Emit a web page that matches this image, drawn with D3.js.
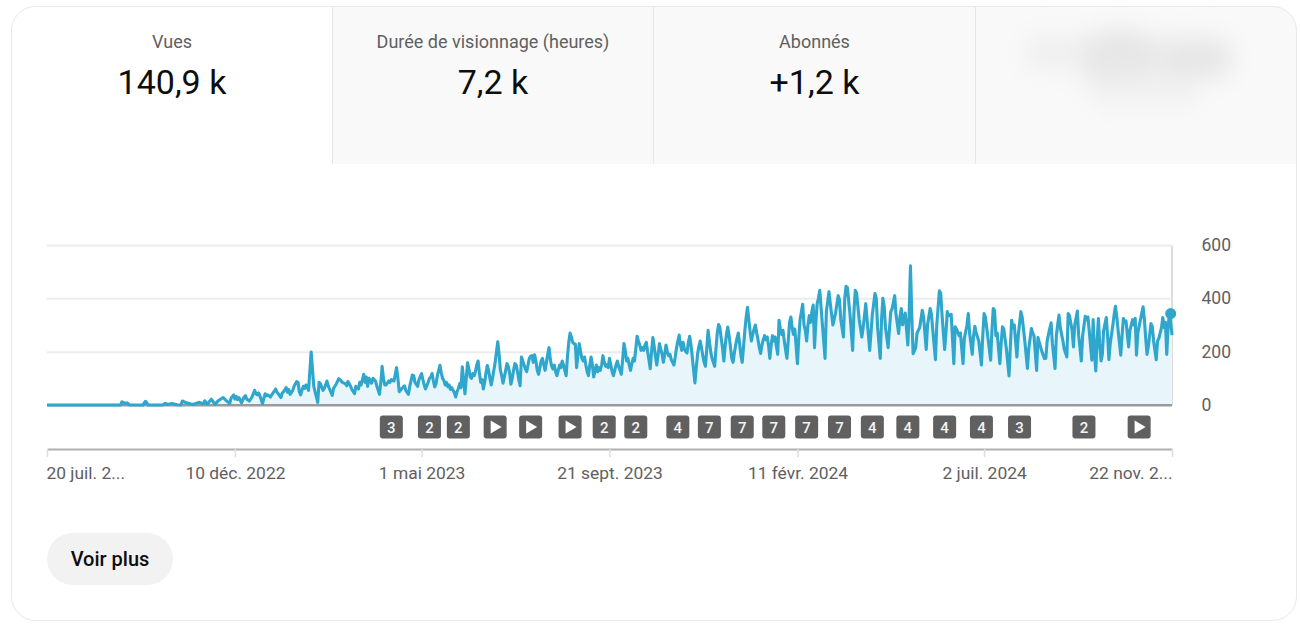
<!DOCTYPE html>
<html>
<head>
<meta charset="utf-8">
<script src="https://cdn.jsdelivr.net/npm/d3@7/dist/d3.min.js"></script>
<style>
html,body{margin:0;padding:0;background:#fff;overflow:hidden}
svg{display:block;font-family:Roboto,sans-serif}
</style>
</head>
<body>
<div id="chart"></div>
<script>
const tabLabels = ["Vues", "Durée de visionnage (heures)", "Abonnés"];
const tabValues = ["140,9 k", "7,2 k", "+1,2 k"];
const buttonLabel = "Voir plus";

const axisDays = [0, 143, 285, 428, 571, 713, 856];
const axisLabels = ["20 juil. 2...", "10 déc. 2022", "1 mai 2023", "21 sept. 2023", "11 févr. 2024", "2 juil. 2024", "22 nov. 2..."];
const yTicks = [0, 200, 400, 600];

// [days since 20 July 2022, daily views]
const viewReadings = [[0,0],[56,0],[57,12],[59,6],[61,8],[63,0],[73,0],[75,14],[77,0],[88,0],[90,6],[92,2],[95,6],[99,1],[102,0],[103,15],[106,8],[111,2],[116,10],[119,4],[120,16],[122,3],[125,22],[128,2],[130,15],[134,28],[136,18],[139,5],[140,25],[142,38],[143,22],[144,32],[145,20],[146,28],[148,8],[150,30],[151,35],[152,22],[154,15],[156,30],[158,55],[159,42],[160,38],[161,45],[162,35],[164,5],[165,25],[166,42],[167,35],[168,38],[170,30],[171,38],[174,60],[175,48],[176,42],[178,28],[179,45],[180,50],[182,65],[183,48],[184,58],[185,40],[187,55],[188,70],[190,88],[191,85],[192,50],[193,38],[194,55],[195,70],[196,62],[197,75],[199,55],[201,199],[203,70],
[206,10],[207,85],[208,80],[210,55],[211,62],[213,90],[214,72],[215,60],[217,36],[218,62],[220,78],[222,99],[223,95],[225,84],[227,80],[228,72],[229,88],[231,70],[232,58],[234,42],[235,70],[237,60],[238,85],[239,75],[241,115],[242,85],[243,105],[244,70],[245,100],[247,82],[248,100],[250,90],[251,70],[253,40],[254,85],[255,145],[256,100],[257,75],[258,75],[260,90],[261,85],[262,95],[264,90],[266,140],[267,100],[268,50],[270,62],[272,72],[273,55],[275,40],[276,70],[278,112],[279,110],[280,85],[282,70],[283,95],[285,118],[286,95],[287,75],[288,60],[290,85],[291,100],
[292,105],[293,118],[294,90],[295,68],[296,80],[297,110],[299,149],[300,120],[301,100],[302,92],[303,75],[304,85],[305,68],[306,75],[307,58],[308,65],[309,55],[310,45],[311,30],[312,50],[313,62],[314,80],[315,65],[316,143],[317,95],[318,42],[319,100],[320,158],[321,135],[322,105],[323,100],[324,118],[325,110],[326,125],[327,150],[328,165],[329,120],[330,85],[331,95],[332,60],[333,85],[334,120],[335,148],[336,130],[337,100],[338,75],[339,100],[340,130],[341,160],[342,200],[343,237],[344,190],[345,130],[346,110],[347,82],[348,105],[349,130],[350,155],[351,145],[352,120],[353,78],[354,100],[355,130],[356,155],[357,150],[358,125],[359,95],[360,72],[361,180],[362,165],[363,150],[364,135],[365,125],[366,150],[367,175],[368,183],[369,185],[370,160],[371,188],[372,165],[373,130],[374,115],[375,140],[376,165],[377,175],[378,150],[379,130],[380,160],[381,190],[382,215],[383,170],[384,145],[385,135],[386,150],[387,125],[388,110],[389,130],[390,150],[391,140],[392,165],[393,150],[394,130],[395,110],[396,180],[397,235],[398,270],[399,255],[400,235],[401,230],[402,228],[403,140],[404,190],[405,230],[406,200],[407,175],[408,165],[409,180],[410,150],[411,125],[412,110],
[413,150],[414,180],[415,150],[416,105],[417,130],[418,150],[419,125],[420,140],[421,130],[422,150],[423,185],[424,160],[425,145],[426,150],[427,140],[428,175],[429,150],[430,125],[431,110],[432,130],[433,150],[434,165],[435,145],[436,130],[437,115],[438,170],[439,230],[440,205],[441,165],[442,175],[443,150],[444,130],[445,155],[446,175],[447,165],[448,210],[449,258],[450,240],[451,225],[452,205],[453,215],[454,205],[455,225],[456,235],[457,200],[458,170],[459,136],[460,200],[461,253],[462,220],[463,180],[464,150],[465,190],[466,230],[467,210],[468,190],[469,160],[470,190],[471,225],[472,200],[473,185],[474,190],[475,170],[476,160],[477,150],[478,180],[479,215],[480,240],[481,262],[482,225],[483,205],[484,235],[485,210],[486,200],[487,195],[488,235],[489,258],[490,225],[491,180],[492,130],[493,83],[494,140],[495,190],[496,220],[497,240],[498,215],[499,185],[500,160],[501,145],[502,210],[503,280],[504,240],[505,200],[506,175],[507,160],[508,145],[509,210],[510,270],[511,302],[512,290],[513,250],[514,215],[515,165],[516,220],[517,265],[518,292],[519,260],[520,220],[521,175],[522,160],[523,195],[524,225],[525,250],[526,270],[527,230],[528,185],[529,160],[530,220],[531,280],[532,330],[533,366],[534,320],[535,275],[536,240],[537,265],[538,285],[539,300],[540,270],[541,245],[542,215],[543,193],[544,225],[545,245],[546,260],[547,245],[548,255],[549,225],[550,175],[551,225],[552,260],[553,240],[554,255],[555,220],[556,190],[557,318],[558,285],[559,265],[560,280],[561,240],[562,205],[563,175],[564,240],[565,310],[566,330],[567,290],[568,265],[569,285],[570,220],[571,155],[572,250],[573,320],[574,350],[575,378],[576,300],[577,280],[578,240],[579,300],[580,335],[581,310],[582,350],[583,375],[584,215],[585,310],[586,380],[587,400],
[588,430],[590,300],[592,175],[593,350],[595,425],[596,380],[598,300],[600,345],[602,410],[603,395],[604,320],[606,255],[607,400],[608,445],[609,440],[611,340],[613,205],[614,350],[615,430],[616,420],[618,320],[620,255],[621,290],[623,380],[624,320],[626,205],[628,340],[630,418],[631,400],[632,290],[634,175],[635,320],[636,400],[637,370],[638,290],[640,215],[642,350],[643,360],[645,410],[646,340],[648,268],[649,330],[650,362],[651,300],[653,345],[655,225],[656,340],[657,522],[658,340],[659,192],[661,215],[662,270],[664,290],[666,355],[667,330],[669,208],[670,300],[672,362],[673,340],[674,280],[676,170],[677,300],[679,428],[680,420],[681,340],[683,208],[684,270],[685,350],[686,335],[688,340],[690,155],[691,293],[692,285],[694,260],[695,270],[697,155],[698,250],[700,300],[701,343],[702,270],[704,190],[705,260],[706,295],[707,270],[709,240],[711,150],[712,260],[713,343],[714,330],[716,250],[718,168],[719,280],[720,362],[721,355],[722,260],[723,270],[725,155],[726,230],[727,293],[728,285],[730,210],[732,109],[733,220],[734,318],[735,290],[736,300],[738,180],[739,260],[741,350],[742,330],[744,240],[746,137],[747,210],[749,287],[750,270],[751,260],[753,130],[754,253],[755,235],[757,200],[759,174],[760,175],[761,240],[762,265],[764,308],[765,230],[767,137],[768,260],[769,300],[770,337],[771,290],[773,240],[774,210],[776,180],[777,343],[778,335],[780,280],[781,218],[782,300],[784,352],[785,260],[787,165],[788,260],[790,333],[791,320],[792,330],[793,280],[795,168],[796,320],[797,200],[798,128],[799,240],[800,324],[801,230],[802,165],[803,190],[804,280],[806,328],[807,260],[808,170],[809,230],[811,300],[812,340],[813,370],[814,330],[815,280],[817,187],[818,260],[819,324],[820,310],[821,315],[823,218],[824,280],[826,320],[827,300],[828,325],[829,187],[830,270],[832,320],[834,368],[835,320],[836,250],[837,190],[838,220],[840,305],[841,295],[842,240],[844,170],[845,240],[846,250],[848,290],[849,328],[850,290],[851,310],[852,190],[853,290],[854,343],[855,310],[856,262]];

const latestDay = 855;
const latestValue = 343;

const markerDays = [262,291,313,341,368,398,424,448,480,504,529,553,578,603,628,655,683,711,740,789,831];
const markerLabels = ["3","2","2","play","play","play","2","2","4","7","7","7","7","7","4","4","4","4","3","2","play"];

const W = 1300, H = 629;
const svg = d3.select("#chart").append("svg").attr("width", W).attr("height", H);
const defs = svg.append("defs");
defs.append("filter").attr("id","blur").attr("x","-30%").attr("y","-50%").attr("width","160%").attr("height","200%")
  .append("feGaussianBlur").attr("stdDeviation", 12);
defs.append("clipPath").attr("id","cardClip").append("rect")
  .attr("x",11).attr("y",7).attr("width",1286).attr("height",614).attr("rx",24);

const card = svg.append("g").attr("clip-path","url(#cardClip)");
card.append("rect").attr("x",11).attr("y",7).attr("width",1286).attr("height",614).attr("fill","#fff");

const tabEdges = [11, 332, 653, 975, 1297];
const tabIdx = [1,2,3];
card.selectAll("rect.tab").data(tabIdx).join("rect").attr("class","tab")
  .attr("x", d=>tabEdges[d]).attr("y",7).attr("width", d=>tabEdges[d+1]-tabEdges[d]).attr("height",157).attr("fill","#f9f9f9");
card.selectAll("line.sep").data(tabIdx).join("line").attr("class","sep")
  .attr("x1", d=>tabEdges[d]+.5).attr("x2", d=>tabEdges[d]+.5).attr("y1",7).attr("y2",164)
  .attr("stroke","#e6e6e6");

// blurred fourth tile
const blob = card.append("g").attr("filter","url(#blur)").attr("fill","#e6e6e6");
blob.append("rect").attr("x",1024).attr("y",36).attr("width",205).attr("height",34).attr("rx",16).attr("fill","#efefef");
blob.append("rect").attr("x",1085).attr("y",30).attr("width",70).attr("height",66).attr("rx",20);
blob.append("rect").attr("x",1160).attr("y",40).attr("width",72).attr("height",38).attr("rx",15);
blob.append("rect").attr("x",1090).attr("y",76).attr("width",110).attr("height",30).attr("rx",14).attr("fill","#f1f1f1");

svg.append("rect").attr("x",11.5).attr("y",6.5).attr("width",1285).attr("height",614).attr("rx",24)
  .attr("fill","none").attr("stroke","#e8e8e8");

const tabs = svg.selectAll("g.tabtext").data(tabLabels).join("g").attr("class","tabtext");
const tabMid = i => (tabEdges[i]+tabEdges[i+1])/2 + .5;
tabs.append("text").attr("x",(d,i)=>tabMid(i)).attr("y",48)
  .attr("text-anchor","middle").attr("font-size",18).attr("fill","#606060").text(d=>d);
tabs.append("text").attr("x",(d,i)=>tabMid(i)).attr("y",94)
  .attr("text-anchor","middle").attr("font-size",34).attr("fill","#0d0d0d").text((d,i)=>tabValues[i]);

// scales
const x = d3.scaleLinear().domain([0,856]).range([47,1172]);
const y = d3.scaleLinear().domain([0,600]).range([405,245]);

// y axis with gridlines
const yAxis = svg.append("g").attr("transform","translate(1171.5,0)")
  .call(d3.axisRight(y).tickValues(yTicks).tickSize(-1124.5).tickSizeOuter(0).tickPadding(30));
yAxis.select(".domain").attr("stroke","#dcdcdc").attr("stroke-width",2);
yAxis.selectAll(".tick line").attr("stroke",d=>d===0?"#9a9a9a":"#ececec").attr("stroke-width",2);
yAxis.selectAll(".tick text").attr("font-size",17.5).attr("fill","#606060").attr("font-family","Roboto,sans-serif");

// area + line
const pts = viewReadings.map(r=>({d:r[0], v:r[1]}));
svg.append("path").datum(pts).attr("fill","#e8f6fc")
  .attr("d", d3.area().x(p=>x(p.d)).y0(y(0)).y1(p=>y(p.v)));
svg.append("line").attr("x1",x(0)).attr("x2",x(856)).attr("y1",y(0)).attr("y2",y(0)).attr("stroke","#9a9a9a").attr("stroke-width",2);
svg.append("path").datum(pts).attr("fill","none").attr("stroke","#2fa6cc").attr("stroke-width",3.1)
  .attr("stroke-linejoin","round")
  .attr("d", d3.line().x(p=>x(p.d)).y(p=>y(p.v)));
svg.append("circle").attr("cx",x(latestDay)).attr("cy",y(latestValue)).attr("r",5.5).attr("fill","#2fa6cc");

// video markers
const mk = svg.selectAll("g.marker").data(markerDays).join("g").attr("class","marker")
  .attr("transform",d=>`translate(${x(d)},427)`);
mk.append("rect").attr("x",-11.5).attr("y",-11.5).attr("width",23).attr("height",23).attr("rx",3).attr("fill","#606060");
mk.each(function(d,i){
  const g = d3.select(this), lab = markerLabels[i];
  if(lab==="play"){
    g.append("path").attr("d","M-4.5,-6.5L6.5,0L-4.5,6.5Z").attr("fill","#fff");
  } else {
    g.append("text").attr("text-anchor","middle").attr("y",5.5).attr("font-size",15).attr("font-weight",500)
      .attr("fill","#f4f4f4").text(lab);
  }
});

// x axis
const xAxis = svg.append("g").attr("transform","translate(0,449)")
  .call(d3.axisBottom(x).tickValues(axisDays).tickFormat((d,i)=>axisLabels[i]).tickSize(8).tickSizeOuter(0).tickPadding(10));
xAxis.select(".domain").attr("stroke","#b0b0b0").attr("stroke-width",2);
xAxis.selectAll(".tick line").attr("stroke","#dedede").attr("stroke-width",1.5);
xAxis.selectAll(".tick text").attr("font-size",17.4).attr("fill","#606060").attr("font-family","Roboto,sans-serif")
  .attr("dx",(d,i)=>i===0?-1:0)
  .attr("text-anchor",(d,i)=>i===0?"start":i===axisDays.length-1?"end":"middle");

// button
svg.append("rect").attr("x",47).attr("y",533).attr("width",126).attr("height",52).attr("rx",26).attr("fill","#f2f2f2");
svg.append("text").attr("x",110).attr("y",566).attr("text-anchor","middle").attr("font-size",20).attr("font-weight",500)
  .attr("fill","#0d0d0d").text(buttonLabel);
</script>
</body>
</html>
